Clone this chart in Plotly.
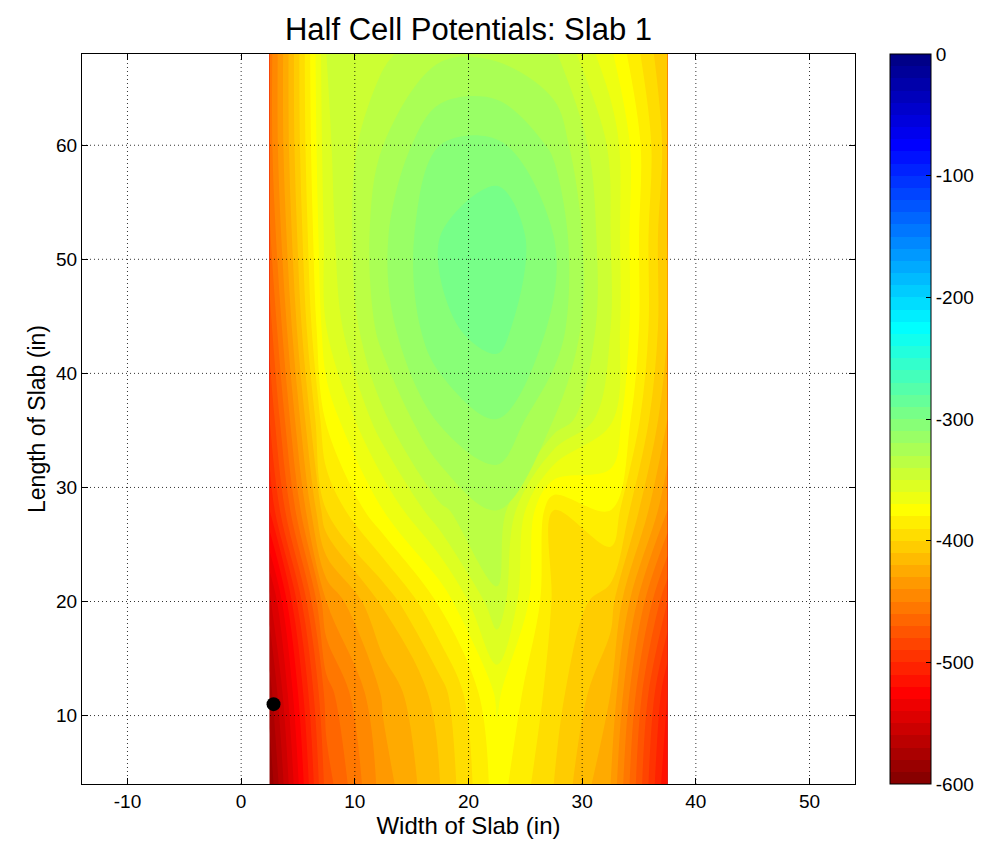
import plotly.graph_objects as go

# Measurement grid (inches)
x_in = [2.5, 7.5, 12.5, 17.5, 22.5, 27.5, 32.5, 37.5]
y_in = [4, 12, 20, 28, 36, 44, 52, 60, 68]

# Half cell potentials (mV), one row per y value
potentials = [
    [-588, -475, -435, -410, -375, -400, -430, -520],  # y=4
    [-575, -465, -428, -405, -368, -395, -420, -510],  # y=12
    [-555, -440, -408, -378, -342, -392, -405, -480],  # y=20
    [-510, -400, -370, -342, -330, -390, -380, -440],  # y=28
    [-490, -378, -342, -318, -310, -330, -358, -420],  # y=36
    [-475, -360, -325, -302, -296, -312, -350, -410],  # y=44
    [-462, -355, -322, -300, -290, -310, -350, -410],  # y=52
    [-455, -352, -330, -310, -308, -322, -352, -405],  # y=60
    [-455, -350, -342, -332, -332, -338, -368, -410],  # y=68
]

# Marked location
dot_x = [2.85]
dot_y = [11.0]

x_ticks = [-10, 0, 10, 20, 30, 40, 50]
y_ticks = [10, 20, 30, 40, 50, 60]
cbar_ticks = [0, -100, -200, -300, -400, -500, -600]

x_range = [-14, 54]
y_range = [4, 68]

jet_rev = [
    [0.0, "rgb(128,0,0)"],
    [0.125, "rgb(255,0,0)"],
    [0.375, "rgb(255,255,0)"],
    [0.625, "rgb(0,255,255)"],
    [0.875, "rgb(0,0,255)"],
    [1.0, "rgb(0,0,128)"],
]

FONT = "Liberation Sans, Arial, Helvetica, sans-serif"

fig = go.Figure()
fig.add_trace(go.Contour(
    x=x_in, y=y_in, z=potentials,
    colorscale=jet_rev, zmin=-600, zmax=0,
    autocontour=False,
    contours=dict(start=-600, end=0, size=10, coloring="fill", showlines=False),
    line=dict(width=0),
    colorbar=dict(
        x=1.045, xanchor="left", xpad=0, y=0.5, yanchor="middle",
        len=1.0, lenmode="fraction", thickness=41, thicknessmode="pixels",
        outlinewidth=1, outlinecolor="black",
        tickvals=cbar_ticks, ticktext=[str(v) for v in cbar_ticks],
        ticks="inside", ticklen=5, tickcolor="black",
        tickfont=dict(family=FONT, size=19, color="black"),
        ypad=0,
    ),
    showscale=True,
))

fig.add_trace(go.Scatter(
    x=dot_x, y=dot_y, mode="markers",
    marker=dict(color="black", size=14),
    showlegend=False,
))

grid_line = dict(color="rgba(0,0,0,0.8)", width=1, dash="1px,3px")
shapes = []
for xv in x_ticks:
    shapes.append(dict(type="line", xref="x", yref="paper", x0=xv, x1=xv, y0=0, y1=1,
                       line=grid_line, layer="above"))
for yv in y_ticks:
    shapes.append(dict(type="line", xref="paper", yref="y", x0=0, x1=1, y0=yv, y1=yv,
                       line=grid_line, layer="above"))

fig.update_layout(
    width=982, height=847,
    margin=dict(l=82, r=127, t=54, b=63, pad=0, autoexpand=False),
    paper_bgcolor="white", plot_bgcolor="white",
    font=dict(family=FONT, color="black"),
    title=dict(text="Half Cell Potentials: Slab 1", x=(82 + 855) / 2 / 982, xanchor="center",
               y=1 - 29 / 847, yanchor="middle", font=dict(family=FONT, size=31, color="black")),
    shapes=shapes,
    showlegend=False,
)
fig.update_xaxes(
    range=x_range, tickvals=x_ticks, ticktext=[str(v) for v in x_ticks],
    showgrid=False, zeroline=False,
    showline=True, linecolor="black", linewidth=1, mirror="ticks",
    ticks="inside", ticklen=6, tickcolor="black", layer="above traces",
    tickfont=dict(family=FONT, size=19, color="black"),
    title=dict(text="Width of Slab (in)", font=dict(family=FONT, size=24, color="black"), standoff=3),
)
fig.update_yaxes(
    range=y_range, tickvals=y_ticks, ticktext=[str(v) for v in y_ticks],
    showgrid=False, zeroline=False,
    showline=True, linecolor="black", linewidth=1, mirror="ticks",
    ticks="inside", ticklen=6, tickcolor="black", layer="above traces",
    tickfont=dict(family=FONT, size=19, color="black"),
    title=dict(text="Length of Slab (in)", font=dict(family=FONT, size=23, color="black"), standoff=4),
)

fig.write_html("out.html")
